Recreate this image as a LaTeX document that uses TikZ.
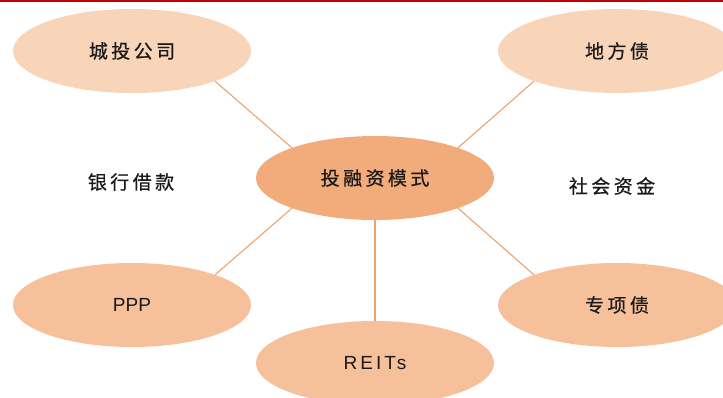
\documentclass[tikz,border=0pt]{standalone}
\usepackage{fontspec}
\setmainfont{Liberation Sans}
\newfontfamily\cjk[LetterSpace=18,FakeBold=0.6]{Noto Sans CJK SC}
\newfontfamily\latspaced[LetterSpace=16]{Liberation Sans}
\usetikzlibrary{shapes.geometric}
\definecolor{peachlight}{HTML}{F8D4B8}
\definecolor{peachmid}{HTML}{F5C09A}
\definecolor{peachdark}{HTML}{F2AB7A}
\definecolor{linkline}{HTML}{F0A26C}
\definecolor{topred}{HTML}{C00000}
\definecolor{txt}{HTML}{1A1A1A}
\tikzset{
  blob/.style={ellipse, minimum width=238pt, minimum height=84pt, inner sep=0pt, text=txt},
  cjklabel/.style={font=\cjk\fontsize{19}{21}\selectfont, text=txt},
  latlabel/.style={font=\fontsize{19}{21}\selectfont, text=txt},
  link/.style={draw=linkline, line width=1.1pt}
}
\begin{document}
\begin{tikzpicture}[x=1pt,y=-1pt]
  \useasboundingbox (0,0) rectangle (723,398);
  \fill[white] (0,0) rectangle (723,398);
  \begin{scope}
    \clip (0,0) rectangle (723,398);
    % outer ring of funding channels
    \node[blob, fill=peachlight, cjklabel] (ctgs) at (132,51) {城投公司};
    \node[blob, fill=peachlight, cjklabel] (dfz) at (617,51) {地方债};
    \node[blob, fill=peachmid, latlabel] (ppp) at (132,305) {PPP};
    \node[blob, fill=peachmid, latlabel, font=\latspaced\fontsize{19}{21}\selectfont] (reits) at (375,363) {REITs};
    \node[blob, fill=peachmid, cjklabel] (zxz) at (617,305) {专项债};
    % hub
    \node[blob, fill=peachdark, cjklabel] (hub) at (375,178) {投融资模式};
    % free labels
    \node[cjklabel] (yhjk) at (131,182) {银行借款};
    \node[cjklabel] (shzj) at (612,186) {社会资金};
    % spokes
    \draw[link] (hub.160) -- (ctgs.-20);
    \draw[link] (hub.20) -- (dfz.200);
    \draw[link] (hub.200) -- (ppp.20);
    \draw[link] (hub.-20) -- (zxz.160);
    \draw[link] (hub.south) -- (reits.north);
  \end{scope}
  % rule along the top edge
  \coordinate (rl) at (0,0.8);
  \coordinate (rr) at (723,0.8);
  \draw[topred, line width=1.6pt] (rl) -- (rr);
\end{tikzpicture}
\end{document}
